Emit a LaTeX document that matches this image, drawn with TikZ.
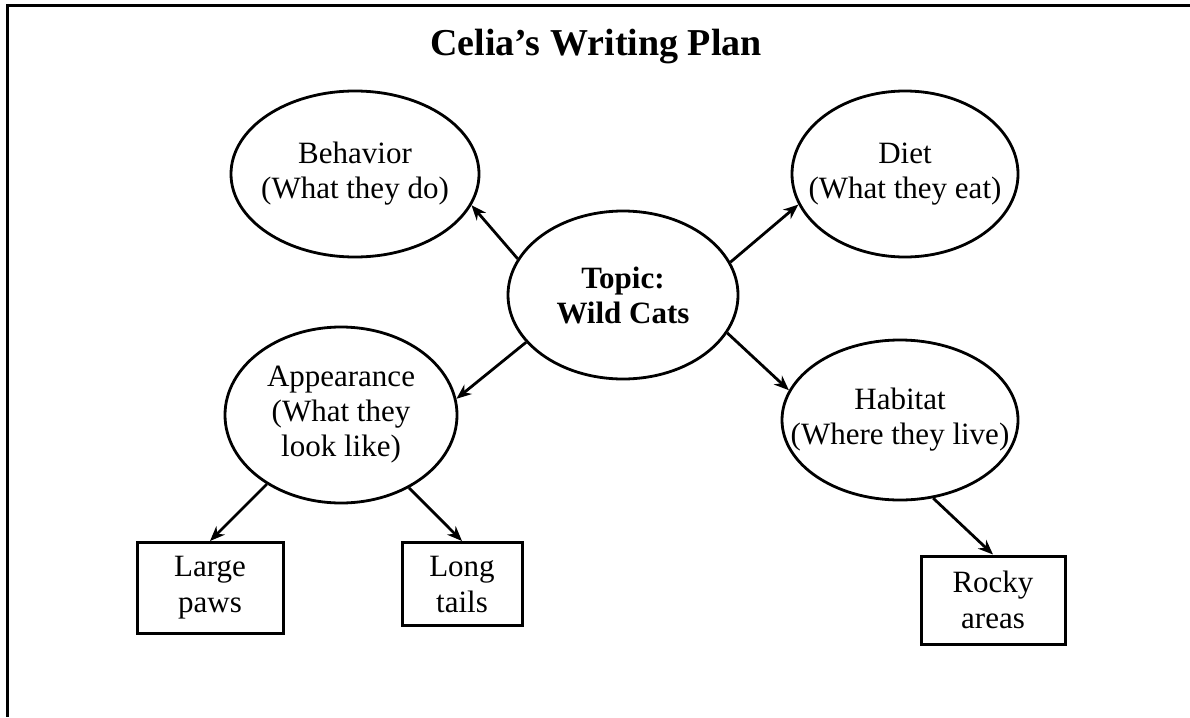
\documentclass[tikz,border=0pt]{standalone}
\usepackage{fontspec}
\setmainfont{Liberation Serif}
\usetikzlibrary{arrows.meta,shapes.geometric}
\begin{document}
\begin{tikzpicture}[x=1pt,y=-1pt,
  bubble/.style={ellipse,draw,line width=2.8pt,inner sep=0pt},
  txt/.style={inner sep=0pt,align=center,font=\fontsize{31}{35}\selectfont},
  leaf/.style={rectangle,draw,line width=3pt,inner sep=0pt,align=center,
    font=\fontsize{31}{36}\selectfont},
  link/.style={line width=2.8pt,-{Stealth[length=15pt,width=12pt]}},
  frame/.style={line width=3pt}]
\useasboundingbox (0,0) rectangle (1190,717);
\coordinate (ftl) at (7,6);
\coordinate (ftr) at (1190,6);
\coordinate (fbl) at (7,717);
\draw[frame] (ftr) -- (ftl) -- (fbl);
\node[font=\bfseries\fontsize{38}{40}\selectfont] (title) at (596,47) {Celia’s Writing Plan};
% ellipses
\node[bubble,minimum width=248pt,minimum height=166pt] (behavior) at (355,174) {};
\node[bubble,minimum width=226pt,minimum height=166pt] (diet) at (905,174) {};
\node[bubble,minimum width=230pt,minimum height=168pt] (topic) at (623,295) {};
\node[bubble,minimum width=232pt,minimum height=176pt] (appear) at (341,415) {};
\node[bubble,minimum width=236pt,minimum height=160pt] (habitat) at (900,420) {};
% texts
\node[txt] (behaviortxt) at (behavior) {Behavior\\(What they do)};
\node[txt] (diettxt) at (diet) {Diet\\(What they eat)};
\node[txt,font=\bfseries\fontsize{31}{35}\selectfont] (topictxt) at (topic) {Topic:\\Wild Cats};
\node[txt] (appeartxt) at (appear) {Appearance\\(What they\\look like)};
\node[txt] (habitattxt) at (habitat) {Habitat\\(Where they live)};
% boxes
\node[leaf,minimum width=146pt,minimum height=91pt] (paws) at (210,588) {Large\\paws};
\node[leaf,minimum width=120pt,minimum height=83pt] (tails) at (462,584) {Long\\tails};
\node[leaf,minimum width=144pt,minimum height=88pt] (rocky) at (993,600) {Rocky\\areas};
% connectors
\draw[link] (topic.161) -- (behavior.-15);
\draw[link] (topic.17) -- (diet.196);
\draw[link] (topic.206) -- (appear.8);
\draw[link] (topic.340) -- (habitat.165);
\draw[link] (appear.223) -- (paws.north);
\draw[link] (appear.313) -- (tails.north);
\draw[link] (habitat.293) -- (rocky.north);
\end{tikzpicture}
\end{document}
